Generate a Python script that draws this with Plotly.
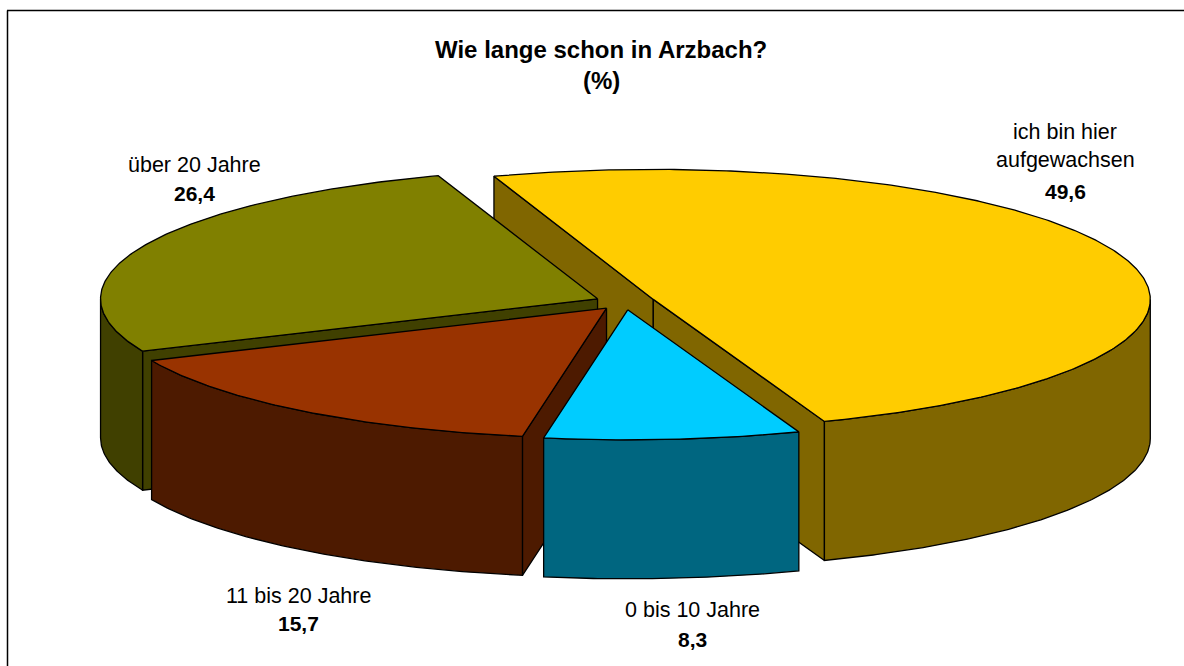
import numpy as np
import plotly.graph_objects as go

categories = ["ich bin hier<br>aufgewachsen", "0 bis 10 Jahre", "11 bis 20 Jahre", "über 20 Jahre"]
values = [49.6, 8.3, 15.7, 26.4]
top_colors = ["#FFCC00", "#00CCFF", "#993300", "#808000"]
side_colors = ["#806600", "#006680", "#4D1A00", "#404000"]

W, H = 1184, 666
CX, CY = 625, 302
RX, RY = 497, 130
EXPLODE = 30
DEPTH = 139
START = -18.7
LINE = dict(color="black", width=1.3)


def arc(cx, cy, a0, a1):
    t = np.radians(np.linspace(a0, a1, max(int(abs(a1 - a0)) * 2, 2)))
    return cx + RX * np.sin(t), cy - RY * np.cos(t)


fig = go.Figure()


def face(xs, ys, color):
    fig.add_trace(go.Scatter(x=list(xs), y=list(ys), mode="lines", fill="toself",
                             fillcolor=color, line=LINE, hoverinfo="skip", showlegend=False))


def wall(xs, ys, color):
    xs, ys = np.asarray(xs), np.asarray(ys)
    face(np.r_[xs, xs[::-1], xs[0]], np.r_[ys, ys[::-1] + DEPTH, ys[0]], color)


# slice geometry derived from values (clockwise from START)
total = sum(values)
angles = [START]
for v in values:
    angles.append(angles[-1] + 360 * v / total)

geo = []
for i in range(len(values)):
    a0, a1 = angles[i], angles[i + 1]
    mid = np.radians((a0 + a1) / 2)
    cx = CX + EXPLODE * np.sin(mid)
    cy = CY - EXPLODE * RY / RX * np.cos(mid)
    geo.append((a0, a1, cx, cy))

# painter's order: back to front
for i in [0, 3, 2, 1]:
    a0, a1, cx, cy = geo[i]
    # cut faces whose outward normal points toward the viewer
    if np.sin(np.radians(a0)) < 0:
        ex, ey = arc(cx, cy, a0, a0)
        wall([cx, ex[0]], [cy, ey[0]], side_colors[i])
    if np.sin(np.radians(a1)) > 0:
        ex, ey = arc(cx, cy, a1, a1)
        wall([cx, ex[0]], [cy, ey[0]], side_colors[i])
    # outer wall for the part of the rim facing the viewer
    lo, hi = max(a0, 90), min(a1, 270)
    if hi > lo:
        wx, wy = arc(cx, cy, lo, hi)
        wall(wx, wy, side_colors[i])
    # top
    ax, ay = arc(cx, cy, a0, a1)
    face(np.r_[cx, ax, cx], np.r_[cy, ay, cy], top_colors[i])

FONT = "Liberation Sans, Arial, sans-serif"


def text(x, y, s, size, bold=False):
    fig.add_annotation(x=x, y=y, text=f"<b>{s}</b>" if bold else s, showarrow=False,
                       xanchor="center", yanchor="middle",
                       font=dict(family=FONT, size=size, color="black"))


def fmt(v):
    return f"{v:.1f}".replace(".", ",")


text(601, 49, "Wie lange schon in Arzbach?", 24, True)
text(601, 80, "(%)", 24, True)
label_pos = [(1065, 132, 191), (692, 610, 639), (298, 596, 623), (194, 165, 193)]
for cat, v, (lx, ly, vy) in zip(categories, values, label_pos):
    for k, part in enumerate(cat.split("<br>")):
        text(lx, ly + k * 28, part, 21.5)
    text(lx, vy, fmt(v), 21, True)

# outer frame (only left and top edges are in view)
fig.add_shape(type="line", x0=7.5, x1=7.5, y0=10.5, y1=H, line=dict(color="black", width=1.5))
fig.add_shape(type="line", x0=7, x1=W, y0=10.5, y1=10.5, line=dict(color="black", width=1.5))

fig.update_layout(
    width=W, height=H, margin=dict(l=0, r=0, t=0, b=0),
    paper_bgcolor="white", plot_bgcolor="white", showlegend=False,
    xaxis=dict(range=[0, W], visible=False, fixedrange=True),
    yaxis=dict(range=[H, 0], visible=False, fixedrange=True),
)
fig.write_html("out.html", post_script="document.body.style.margin='0';", config={"displayModeBar": False})
